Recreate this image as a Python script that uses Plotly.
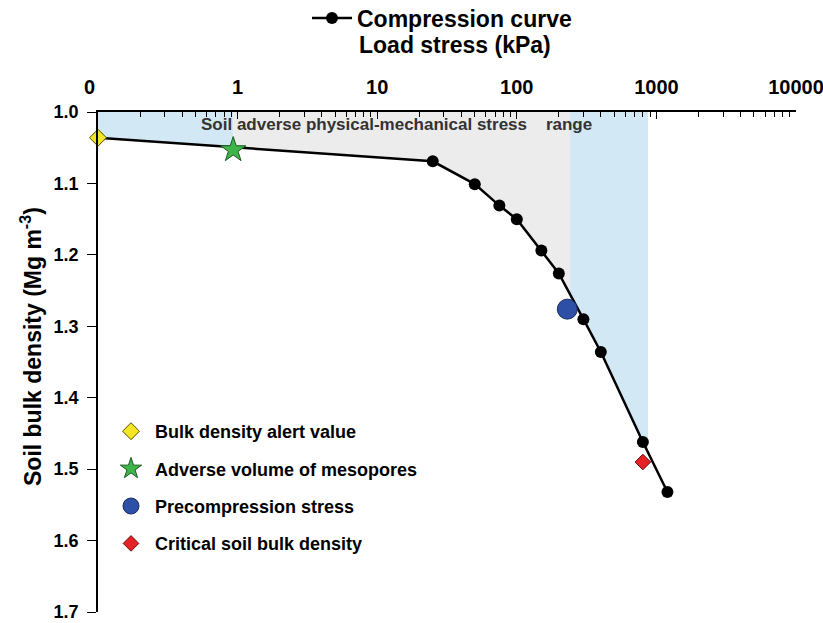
import numpy as np
import plotly.graph_objects as go

# Compression curve: load stress (kPa) vs soil bulk density (Mg m-3)
stress = [0.1, 25, 50, 75, 100, 150, 200, 300, 400, 800, 1200]
density = [1.036, 1.069, 1.101, 1.131, 1.150, 1.194, 1.226, 1.290, 1.336, 1.462, 1.532]

# Reference points
alert_x, alert_y = [0.1], [1.036]            # bulk density alert value
meso_x, meso_y = [0.93], [1.053]             # adverse volume of mesopores
precomp_x, precomp_y = [230], [1.276]        # precompression stress
critical_x, critical_y = [800], [1.49]       # critical soil bulk density

# Stress-range limits of the shaded bands (kPa)
band_start = 0.93
band_split = 240
band_end = 870

x_tickvals = [0.1, 1, 10, 100, 1000, 10000]
# the leftmost label sits slightly left of the axis corner
x_ticktext = ["0&nbsp;&nbsp;&nbsp;", "1", "10", "100", "1000", "10000"]
y_tickvals = [1.0, 1.1, 1.2, 1.3, 1.4, 1.5, 1.6, 1.7]

FONT = "Liberation Sans"
BLUE_FILL = "#d2e8f5"
GRAY_FILL = "#ececec"


def curve_at(xv):
    return float(np.interp(np.log10(xv), np.log10(stress), density))


def band(x0, x1):
    inner = [(s, d) for s, d in zip(stress, density) if x0 < s < x1]
    xs = [x0] + [p[0] for p in inner] + [x1]
    ys = [curve_at(x0)] + [p[1] for p in inner] + [curve_at(x1)]
    xs += [x1, x0, x0]
    ys += [1.0, 1.0, ys[0]]
    return xs, ys


fig = go.Figure()

for (a, b), col in [((stress[0], band_start), BLUE_FILL),
                    ((band_start, band_split), GRAY_FILL),
                    ((band_split, band_end), BLUE_FILL)]:
    bx, by = band(a, b)
    fig.add_trace(go.Scatter(
        x=bx, y=by, mode="lines", fill="toself", fillcolor=col,
        line=dict(width=0), hoverinfo="skip", showlegend=False))

fig.add_trace(go.Scatter(
    x=stress, y=density, mode="lines+markers", name="Compression curve",
    line=dict(color="black", width=2.5),
    marker=dict(color="black", size=12, symbol="circle"),
    cliponaxis=False, legend="legend"))

markers = [
    ("Bulk density alert value", alert_x, alert_y, "diamond", 13, "#f4e526", "#5a5200"),
    ("Adverse volume of mesopores", meso_x, meso_y, "star", 19, "#3fb449", "#1d5a22"),
    ("Precompression stress", precomp_x, precomp_y, "circle", 20, "#2e4fa6", "#1a2d66"),
    ("Critical soil bulk density", critical_x, critical_y, "diamond", 12, "#e52226", "#6a0d0d"),
]
for i, (nm, mx, my, sym, sz, fc, lc) in enumerate(markers):
    fig.add_trace(go.Scatter(
        x=mx, y=my, mode="markers", name=nm,
        marker=dict(symbol=sym, size=sz, color=fc, line=dict(color=lc, width=1)),
        cliponaxis=False, legend="legend2", legendgroup=f"g{i}"))

fig.add_annotation(
    x=1.135, y=1.018, xref="x", yref="y",
    text="Soil adverse physical-mechanical stress&nbsp;&nbsp;&nbsp;&nbsp;range",
    showarrow=False, font=dict(family=FONT, size=17, color="#333333", weight="bold"))

# Axis titles
fig.add_annotation(
    x=0.512, y=1.134, xref="paper", yref="paper", xanchor="center", yanchor="middle",
    text="Load stress (kPa)", showarrow=False,
    font=dict(family=FONT, size=23, color="black", weight="bold"))
fig.add_annotation(
    x=-0.096, y=0.532, xref="paper", yref="paper", xanchor="center", yanchor="middle",
    text="Soil bulk density (Mg m<sup>-3</sup>)", textangle=-90, showarrow=False,
    font=dict(family=FONT, size=23, color="black", weight="bold"))

fig.update_layout(
    width=823, height=623,
    margin=dict(l=98, r=27, t=112, b=11, autoexpand=False),
    paper_bgcolor="white", plot_bgcolor="white",
    font=dict(family=FONT, color="black"),
    legend=dict(
        orientation="h", x=0.2994, xanchor="left", y=1.188, yanchor="middle",
        font=dict(family=FONT, size=23, weight="bold"), bgcolor="rgba(0,0,0,0)",
        itemwidth=40),
    legend2=dict(
        x=0.0129, xanchor="left", y=0.398, yanchor="top",
        font=dict(family=FONT, size=18, weight="bold"), bgcolor="rgba(0,0,0,0)",
        tracegroupgap=11, itemsizing="trace", itemwidth=38),
)

fig.update_xaxes(
    type="log", range=[-1, 4], side="top", automargin=False,
    tickvals=x_tickvals, ticktext=x_ticktext, ticklabeloverflow="allow",
    ticks="inside", ticklen=7, tickwidth=1.2, tickcolor="black",
    tickfont=dict(family=FONT, size=20, weight="bold"), ticklabelstandoff=8,
    minor=dict(ticks="inside", ticklen=5, tickwidth=1, tickcolor="black",
               tickvals=[m * 10.0 ** e for e in range(-1, 4) for m in range(2, 10)]),
    showline=True, linecolor="black", linewidth=1.5, mirror=False,
    showgrid=False, zeroline=False,
)
fig.update_yaxes(
    range=[1.7, 1.0], tickvals=y_tickvals, tickformat=".1f", automargin=False,
    ticks="outside", ticklen=9, tickwidth=1.2, tickcolor="black",
    tickfont=dict(family=FONT, size=18, weight="bold"), ticklabelstandoff=5,
    showline=True, linecolor="black", linewidth=1.5,
    showgrid=False, zeroline=False,
)

fig.write_html("out.html")
